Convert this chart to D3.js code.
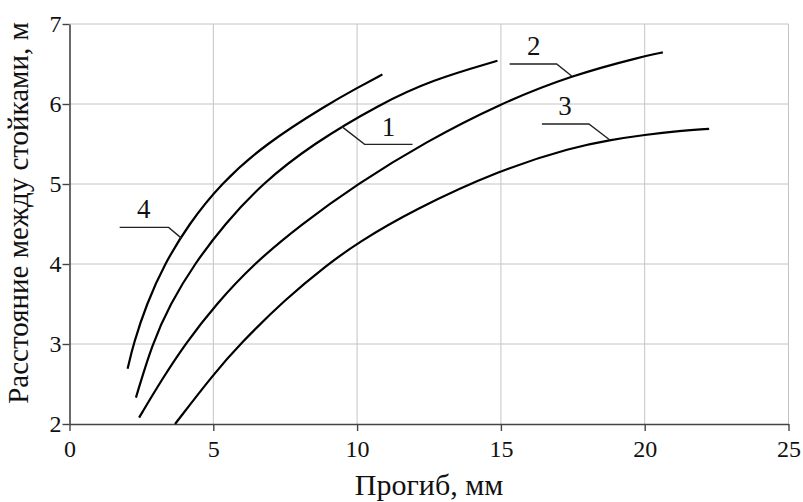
<!DOCTYPE html>
<html>
<head>
<meta charset="utf-8">
<script src="https://cdn.jsdelivr.net/npm/d3@7"></script>
<style>
  body { margin: 0; background: #fff; }
  svg { display: block; font-family: "Liberation Serif", "Times New Roman", serif; }
</style>
</head>
<body>
<svg id="chart" width="803" height="502"></svg>
<script>
// deflection (mm) vs distance between posts (m)
const curve1 = [[2.31, 2.33], [2.87, 3.0], [3.5, 3.5], [4.34, 4.0], [5.4, 4.5], [6.68, 5.0],
  [8.45, 5.5], [10.8, 6.0], [12.6, 6.3], [14.88, 6.54]];
const curve2 = [[2.42, 2.08], [3.2, 2.55], [4.02, 3.0], [5.1, 3.5], [6.4, 4.0], [8.0, 4.48],
  [10.0, 5.0], [12.4, 5.53], [14.95, 6.0], [17.46, 6.36], [20.0, 6.6], [20.63, 6.645]];
const curve3 = [[3.67, 2.0], [5.0, 2.62], [5.93, 3.0], [7.5, 3.56], [9.0, 4.0], [10.0, 4.26],
  [11.95, 4.675], [15.0, 5.18], [17.5, 5.46], [18.79, 5.55], [20.0, 5.615], [21.23, 5.665],
  [22.24, 5.69]];
const curve4 = [[2.02, 2.69], [2.22, 3.0], [2.68, 3.5], [3.3, 4.0], [4.15, 4.5], [5.25, 5.0],
  [6.8, 5.5], [9.0, 6.0], [10.0, 6.2], [10.88, 6.37]];

const curves = [curve1, curve2, curve3, curve4];

// label name and the point on the curve where its leader line touches
const labelNames = ["1", "2", "3", "4"];
const labelAnchors = [[9.46, 5.72], [17.46, 6.35], [18.79, 5.55], [3.9, 4.32]];

const xTicks = [0, 5, 10, 15, 20, 25];
const yTicks = [2, 3, 4, 5, 6, 7];
const xTitle = "Прогиб, мм";
const yTitle = "Расстояние между стойками, м";

const svg = d3.select("#chart");

const xScale = d3.scaleLinear().domain([0, 25]).range([69.5, 788.5]);
const yScale = d3.scaleLinear().domain([2, 7]).range([424, 24]);

// grid
svg.append("g")
  .selectAll("line")
  .data(xTicks.slice(1))
  .join("line")
  .attr("x1", d => xScale(d)).attr("x2", d => xScale(d))
  .attr("y1", yScale(2)).attr("y2", yScale(7))
  .attr("stroke", "#c4c4c4").attr("stroke-width", 1);

svg.append("g")
  .selectAll("line")
  .data(yTicks.slice(1))
  .join("line")
  .attr("x1", xScale(0)).attr("x2", xScale(25))
  .attr("y1", d => yScale(d)).attr("y2", d => yScale(d))
  .attr("stroke", "#c4c4c4").attr("stroke-width", 1);

// axes
const xAxis = svg.append("g")
  .attr("transform", "translate(0," + yScale(2) + ")")
  .call(d3.axisBottom(xScale).tickValues(xTicks).tickFormat(d3.format("d"))
    .tickSize(7).tickPadding(9).tickSizeOuter(0));

const yAxis = svg.append("g")
  .attr("transform", "translate(" + xScale(0) + ",0)")
  .call(d3.axisLeft(yScale).tickValues(yTicks).tickFormat(d3.format("d"))
    .tickSize(7).tickPadding(1).tickSizeOuter(0));

[xAxis, yAxis].forEach(a => {
  a.select(".domain").attr("stroke", "#444").attr("stroke-width", 1.6);
  a.selectAll(".tick line").attr("stroke", "#444").attr("stroke-width", 1.4);
  a.selectAll(".tick text")
    .style("font-family", "'Liberation Serif', 'Times New Roman', serif")
    .style("font-size", "24px")
    .attr("fill", "#111");
});

// curves
const line = d3.line()
  .x(d => xScale(d[0]))
  .y(d => yScale(d[1]))
  .curve(d3.curveBasis);

svg.append("g")
  .selectAll("path")
  .data(curves)
  .join("path")
  .attr("d", line)
  .attr("fill", "none")
  .attr("stroke", "#000")
  .attr("stroke-width", 2.2);

// leader lines: [elbow dx, elbow dy, end dx, end dy, label dx, label dy]
const leaderShape = [
  [23, 18, 71, 18, 47, 10],
  [-15, -12, -62, -12, -38, -21],
  [-21, -16, -68, -16, -45, -25],
  [-13, -11, -62, -11, -38, -20]
];

const labels = svg.append("g")
  .selectAll("g")
  .data(labelNames)
  .join("g")
  .attr("transform", (d, i) => "translate(" + xScale(labelAnchors[i][0]) + "," + yScale(labelAnchors[i][1]) + ")");

labels.append("polyline")
  .attr("points", (d, i) => {
    const s = leaderShape[i];
    return "0,0 " + s[0] + "," + s[1] + " " + s[2] + "," + s[3];
  })
  .attr("fill", "none")
  .attr("stroke", "#222")
  .attr("stroke-width", 1.4);

labels.append("text")
  .attr("x", (d, i) => leaderShape[i][4])
  .attr("y", (d, i) => leaderShape[i][5])
  .attr("text-anchor", "middle")
  .attr("font-size", 27)
  .attr("fill", "#111")
  .text(d => d);

// axis titles
svg.append("text")
  .attr("x", (xScale(0) + xScale(25)) / 2)
  .attr("y", 495)
  .attr("text-anchor", "middle")
  .attr("font-size", 30)
  .attr("fill", "#111")
  .text(xTitle);

svg.append("text")
  .attr("transform", "translate(28," + 213 + ") rotate(-90)")
  .attr("text-anchor", "middle")
  .attr("font-size", 29)
  .attr("fill", "#111")
  .text(yTitle);
</script>
</body>
</html>
